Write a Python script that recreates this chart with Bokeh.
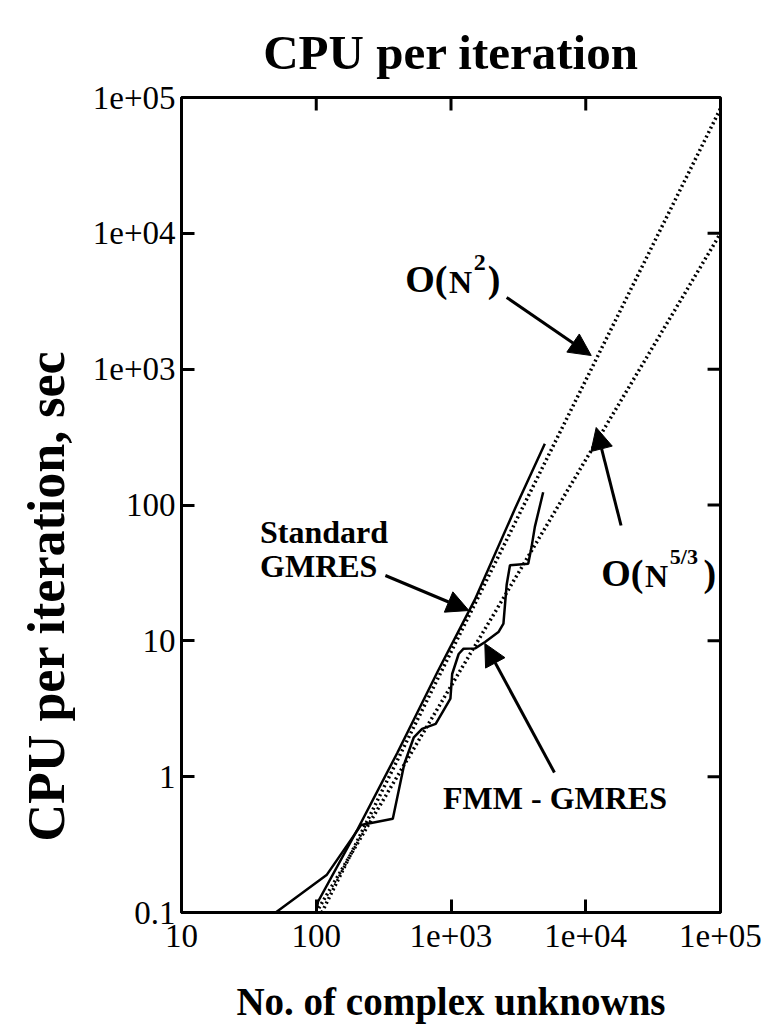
import math
from bokeh.plotting import figure
from bokeh.models import FixedTicker, Label, Arrow, NormalHead, Title
from bokeh.embed import file_html
from bokeh.resources import INLINE

# ---------------- data ----------------
fmm_n = [50, 120, 215, 370, 450, 530, 610, 770, 990, 1020, 1140, 1240, 1510,
         1790, 2250, 2450, 2590, 2740, 3740, 3960, 4190, 4830]
fmm_t = [0.1, 0.19, 0.44, 0.49, 1.24, 1.95, 2.25, 2.45, 3.75, 5.7, 8.0, 8.75,
         8.8, 9.8, 11.6, 13.4, 26, 36, 37, 49, 69, 124]
std_n = [100, 103, 200, 400, 800, 1500, 3000, 4970]
std_t = [0.1, 0.12, 0.40, 1.5, 6.0, 20, 95, 282]
on2_n = [110, 100000]
on2_t = [0.1, 83000]
on53_n = [100, 100000]
on53_t = [0.1, 10000]

x_ticks = [10, 100, 1000, 10000, 100000]
x_tick_labels = ["10", "100", "1e+03", "1e+04", "1e+05"]
y_ticks = [0.1, 1, 10, 100, 1000, 10000, 100000]
y_tick_labels = ["0.1", "1", "10", "100", "1e+03", "1e+04", "1e+05"]

# ---------------- layout ----------------
W, H = 778, 1031
L, R, T, B = 178, 720, 97, 912
FONT = "Liberation Serif"
TICK = 13

p = figure(width=W, height=H, output_backend="svg", toolbar_location=None,
           x_axis_type="log", y_axis_type="log",
           x_range=(10, 1e5), y_range=(0.1, 1e5),
           min_border_left=L, min_border_right=W - R,
           min_border_top=T, min_border_bottom=H - B)
p.xgrid.grid_line_color = None
p.ygrid.grid_line_color = None
p.outline_line_color = "black"
p.outline_line_width = 3
p.background_fill_color = "white"
p.border_fill_color = "white"

FX = (R - L) / 4.0
FY = (B - T) / 6.0


def d(px, py):
    """canvas pixel -> data coordinates"""
    return 10 ** (1 + (px - L) / FX), 10 ** (-1 + (B - py) / FY)


def style_axis(ax, ticks, labels, standoff):
    ax.ticker = FixedTicker(ticks=ticks)
    ax.major_label_overrides = {t: s for t, s in zip(ticks, labels)}
    ax.major_tick_in = TICK
    ax.major_tick_out = 0
    ax.minor_tick_line_color = None
    ax.major_tick_line_width = 3
    ax.major_tick_line_color = "black"
    ax.axis_line_width = 3
    ax.axis_line_color = "black"
    ax.major_label_text_font = FONT
    ax.major_label_text_color = "black"
    ax.major_label_text_font_size = "33px"
    ax.major_label_standoff = standoff


style_axis(p.xaxis[0], x_ticks, x_tick_labels, 12)
style_axis(p.yaxis[0], y_ticks, y_tick_labels, 6)

# x axis title
p.xaxis.axis_label = "No. of complex unknowns"
p.xaxis.axis_label_text_font = FONT
p.xaxis.axis_label_text_font_style = "bold"
p.xaxis.axis_label_text_font_size = "39px"
p.xaxis.axis_label_text_color = "black"
p.xaxis.axis_label_standoff = 30

# main title
p.title.text = "CPU per iteration"
p.title.align = "center"
p.title.text_font = FONT
p.title.text_font_style = "bold"
p.title.text_font_size = "49px"
p.title.text_color = "black"
p.title.standoff = 36

# y axis title, padded at its upper end so that it sits lower, as in the reference
p.add_layout(Title(text="CPU per iteration, sec" + "\u00a0" * 14, align="center",
                   text_font=FONT, text_font_style="bold", standoff=30,
                   text_font_size="52px", text_color="black"), "left")

# inner ticks on top and right frame edges
ty = 10 ** (-TICK / FY)
tx = 10 ** (-TICK / FX)
p.segment(x0=x_ticks, y0=[y_ticks[-1]] * len(x_ticks),
          x1=x_ticks, y1=[y_ticks[-1] * ty] * len(x_ticks),
          line_color="black", line_width=3)
p.segment(x0=[x_ticks[-1]] * len(y_ticks), y0=y_ticks,
          x1=[x_ticks[-1] * tx] * len(y_ticks), y1=y_ticks,
          line_color="black", line_width=3)

# ---------------- lines ----------------
p.line(on2_n, on2_t, line_color="black", line_width=3.5, line_dash="2 3")
p.line(on53_n, on53_t, line_color="black", line_width=3.5, line_dash="2 3")
p.line(std_n, std_t, line_color="black", line_width=2.5)
p.line(fmm_n, fmm_t, line_color="black", line_width=2.5)


# ---------------- texts ----------------
def label(px, py, text, size, align="left", bold=True):
    x, y = d(px, py)
    p.add_layout(Label(x=x, y=y, text=text, text_font=FONT,
                       text_font_size=f"{size}px",
                       text_font_style="bold" if bold else "normal",
                       text_align=align, text_baseline="middle",
                       text_color="black"))


def arrow(x0, y0, x1, y1):
    xs, ys = d(x0, y0)
    xe, ye = d(x1, y1)
    p.add_layout(Arrow(x_start=xs, y_start=ys, x_end=xe, y_end=ye,
                       line_width=3, line_color="black",
                       end=NormalHead(size=22, fill_color="black",
                                      line_color="black", line_width=1)))


label(257, 531, "Standard", 32)
label(257, 565, "GMRES", 32)
label(441, 797, "FMM - GMRES", 32)

label(403, 278, "O(", 38)
label(447, 281, "N", 32)
label(472, 262, "2", 24)
label(486, 278, ")", 38)

label(600, 572, "O(", 38)
label(644, 575, "N", 32)
label(669, 556, "5/3", 22)
label(703, 572, ")", 38)

arrow(505, 297, 590, 355)
arrow(620, 525, 595, 427)
arrow(383, 575, 467, 610)
arrow(553, 772, 483, 643)

open("out.html", "w").write(file_html(p, INLINE))
